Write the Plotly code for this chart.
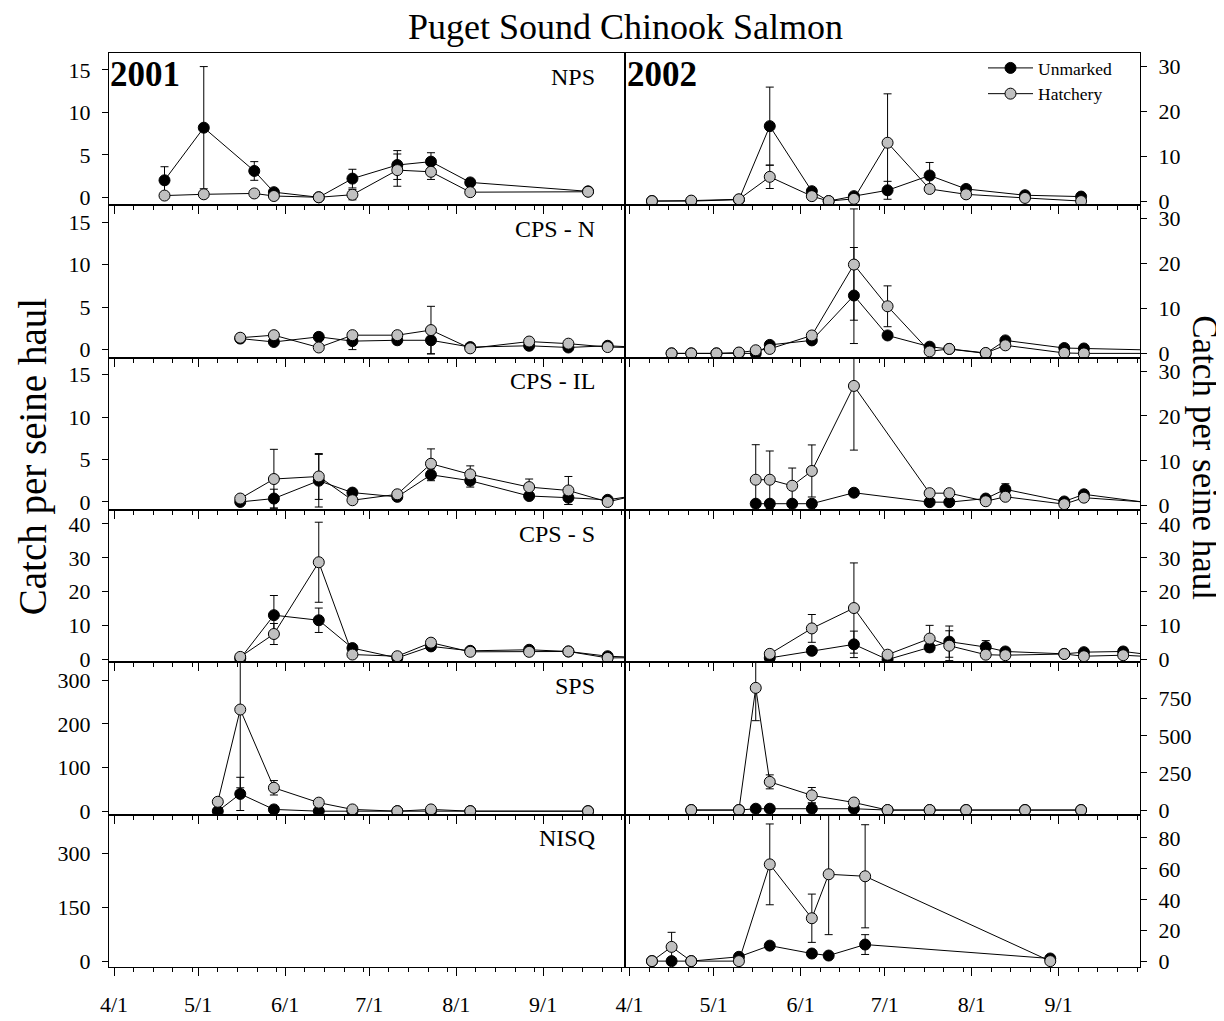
import plotly.graph_objects as go
from plotly.subplots import make_subplots

# Puget Sound Chinook salmon, catch per seine haul (mean +/- SE)
sites = ['NPS', 'CPS - N', 'CPS - IL', 'CPS - S', 'SPS', 'NISQ']
years = ['2001', '2002']

# ---- NPS ----
nps_2001_dates = ['2001-04-19', '2001-05-03', '2001-05-21', '2001-05-28', '2001-06-13',
                  '2001-06-25', '2001-07-11', '2001-07-23', '2001-08-06', '2001-09-17']
nps_2001_unmarked = [2.0, 8.2, 3.1, 0.6, 0.0, 2.2, 3.8, 4.2, 1.75, 0.7]
nps_2001_unmarked_se = [1.6, 7.2, 1.1, 0.2, 0.1, 1.1, 1.7, 1.05, 0.3, 0.1]
nps_2001_hatchery = [0.2, 0.35, 0.45, 0.15, 0.0, 0.3, 3.2, 3.0, 0.6, 0.65]
nps_2001_hatchery_se = [0.1, 0.1, 0.1, 0.1, 0.1, 0.6, 1.9, 0.9, 0.2, 0.1]

nps_2002_dates = ['2002-04-09', '2002-04-23', '2002-05-10', '2002-05-21', '2002-06-05', '2002-06-11',
                  '2002-06-20', '2002-07-02', '2002-07-17', '2002-07-30', '2002-08-20', '2002-09-09']
nps_2002_unmarked = [0.0, 0.0, 0.3, 16.7, 2.2, 0.0, 1.1, 2.4, 5.7, 2.7, 1.3, 1.0]
nps_2002_unmarked_se = [0, 0, 0.2, 8.7, 0.4, 0, 0.3, 2.0, 2.9, 0.4, 0.3, 0.3]
nps_2002_hatchery = [0.0, 0.1, 0.4, 5.4, 1.1, 0.0, 0.5, 13.0, 2.7, 1.5, 0.7, 0.0]
nps_2002_hatchery_se = [0, 0, 0.2, 2.6, 0.4, 0, 0.2, 10.9, 0.5, 0.4, 0.2, 0]

# ---- CPS - N ----
cpsn_2001_dates = ['2001-05-16', '2001-05-28', '2001-06-13', '2001-06-25', '2001-07-11', '2001-07-23',
                   '2001-08-06', '2001-08-27', '2001-09-10', '2001-09-24', '2001-10-10']
cpsn_2001_unmarked = [1.3, 0.9, 1.5, 1.0, 1.1, 1.1, 0.3, 0.45, 0.25, 0.45, 0.2]
cpsn_2001_unmarked_se = [0.35, 0.3, 0.45, 1.0, 0.3, 1.6, 0.2, 0.2, 0.2, 0.2, 0]
cpsn_2001_hatchery = [1.4, 1.7, 0.25, 1.7, 1.7, 2.3, 0.15, 0.95, 0.7, 0.3, 0.2]
cpsn_2001_hatchery_se = [0.45, 0.35, 0.2, 0.3, 0.3, 2.8, 0.1, 0.2, 0.2, 0.1, 0]

cpsn_2002_dates = ['2002-04-16', '2002-04-23', '2002-05-02', '2002-05-10', '2002-05-16', '2002-05-21',
                   '2002-06-05', '2002-06-20', '2002-07-02', '2002-07-17', '2002-07-24', '2002-08-06',
                   '2002-08-13', '2002-09-03', '2002-09-10', '2002-10-15']
cpsn_2002_unmarked = [0, 0, 0, 0.1, 0, 1.9, 2.9, 12.9, 4.0, 1.5, 1.0, 0, 2.9, 1.2, 1.1, 0.6]
cpsn_2002_unmarked_se = [0, 0, 0, 0, 0, 0.4, 0.5, 10.7, 0.5, 0.4, 0.3, 0, 0.5, 0.3, 0.3, 0]
cpsn_2002_hatchery = [0, 0, 0, 0.2, 0.7, 1.0, 4.0, 19.8, 10.5, 0.45, 1.0, 0.1, 1.8, 0.1, 0.0, 0.0]
cpsn_2002_hatchery_se = [0, 0, 0, 0, 0.2, 0.3, 0.6, 12.4, 4.55, 0.2, 0.3, 0, 0.4, 0, 0, 0]

# ---- CPS - IL ----
cpsil_2001_dates = ['2001-05-16', '2001-05-28', '2001-06-13', '2001-06-25', '2001-07-11', '2001-07-23',
                    '2001-08-06', '2001-08-27', '2001-09-10', '2001-09-24', '2001-10-03']
cpsil_2001_unmarked = [0.0, 0.4, 2.5, 1.1, 0.6, 3.2, 2.5, 0.7, 0.5, 0.25, 0.7]
cpsil_2001_unmarked_se = [0.1, 1.1, 3.1, 0.2, 0.2, 0.7, 0.75, 0.2, 0.8, 0.1, 0]
cpsil_2001_hatchery = [0.4, 2.7, 3.0, 0.2, 0.9, 4.5, 3.25, 1.75, 1.35, 0.0, 0.7]
cpsil_2001_hatchery_se = [0.1, 3.5, 2.7, 0.1, 0.2, 1.75, 1.0, 0.95, 1.65, 0.1, 0]

cpsil_2002_dates = ['2002-05-16', '2002-05-21', '2002-05-29', '2002-06-05', '2002-06-20', '2002-07-17',
                    '2002-07-24', '2002-08-06', '2002-08-13', '2002-09-03', '2002-09-10', '2002-10-10']
cpsil_2002_unmarked = [0.45, 0.45, 0.45, 0.45, 2.9, 0.8, 0.8, 1.6, 3.65, 0.95, 2.55, 0.1]
cpsil_2002_unmarked_se = [0.1, 0.1, 0.1, 0.1, 0.4, 0.2, 0.2, 0.3, 1.25, 0.2, 0.4, 0]
cpsil_2002_hatchery = [5.8, 5.8, 4.45, 7.75, 26.7, 2.8, 2.8, 1.0, 2.0, 0.35, 1.8, 0.45]
cpsil_2002_hatchery_se = [7.8, 6.4, 3.95, 5.8, 14.3, 0.3, 0.3, 0.2, 0.3, 0.1, 0.3, 0]

# ---- CPS - S ----
cpss_2001_dates = ['2001-05-16', '2001-05-28', '2001-06-13', '2001-06-25', '2001-07-11', '2001-07-23',
                   '2001-08-06', '2001-08-27', '2001-09-10', '2001-09-24', '2001-10-10']
cpss_2001_unmarked = [0.3, 13.1, 11.6, 3.4, 0.5, 3.9, 2.6, 2.9, 2.4, 1.0, 0.5]
cpss_2001_unmarked_se = [0.2, 5.8, 3.6, 0.4, 0.2, 1.0, 0.3, 0.3, 0.3, 0.2, 0]
cpss_2001_hatchery = [0.8, 7.55, 28.7, 1.5, 1.0, 5.0, 2.3, 2.3, 2.4, 0.5, 0.6]
cpss_2001_hatchery_se = [0.2, 3.1, 11.8, 0.3, 0.2, 1.2, 0.3, 0.3, 0.3, 0.2, 0]

cpss_2002_dates = ['2002-05-21', '2002-06-05', '2002-06-20', '2002-07-02', '2002-07-17', '2002-07-24',
                   '2002-08-06', '2002-08-13', '2002-09-03', '2002-09-10', '2002-09-24', '2002-10-10']
cpss_2002_unmarked = [0.5, 2.6, 4.5, 0.0, 3.6, 5.3, 3.7, 2.4, 1.7, 2.2, 2.4, 0.8]
cpss_2002_unmarked_se = [0.2, 0.4, 3.9, 0.2, 0.8, 4.6, 1.9, 0.4, 0.3, 0.4, 1.2, 0]
cpss_2002_hatchery = [1.7, 9.2, 15.2, 1.45, 6.2, 4.1, 1.45, 1.3, 1.65, 1.0, 1.3, 0.6]
cpss_2002_hatchery_se = [0.3, 4.1, 13.3, 0.3, 3.9, 4.4, 0.3, 0.3, 0.3, 0.3, 0.3, 0]

# ---- SPS ----
sps_2001_dates = ['2001-05-08', '2001-05-16', '2001-05-28', '2001-06-13', '2001-06-25',
                  '2001-07-11', '2001-07-23', '2001-08-06', '2001-09-17']
sps_2001_unmarked = [0.5, 40, 4.5, 0.5, 0.5, 0.5, 0.5, 0.5, 0.5]
sps_2001_unmarked_se = [0.3, 38, 1.5, 0.2, 0.2, 0.2, 0.2, 0.2, 0.2]
sps_2001_hatchery = [22, 233, 54, 20, 4.5, 0.5, 4.5, 0.5, 0.5]
sps_2001_hatchery_se = [2, 179, 16.5, 2, 1, 0.2, 1, 0.2, 0.2]

sps_2002_dates = ['2002-04-23', '2002-05-10', '2002-05-16', '2002-05-21', '2002-06-05', '2002-06-20',
                  '2002-07-02', '2002-07-17', '2002-07-30', '2002-08-20', '2002-09-09']
sps_2002_unmarked = [0, 0, 9, 9, 9, 9, 0, 0, 0, 0, 0]
sps_2002_unmarked_se = [0, 0, 3, 3, 40, 5, 0, 0, 0, 0, 0]
sps_2002_hatchery = [0, 0, 823, 190, 99, 51, 0, 0, 0, 0, 0]
sps_2002_hatchery_se = [0, 0, 221, 47, 53, 5, 0, 0, 0, 0, 0]

# ---- NISQ ----
nisq_2001_dates = []
nisq_2001_unmarked = []
nisq_2001_unmarked_se = []
nisq_2001_hatchery = []
nisq_2001_hatchery_se = []

nisq_2002_dates = ['2002-04-09', '2002-04-16', '2002-04-23', '2002-05-10', '2002-05-21',
                   '2002-06-05', '2002-06-11', '2002-06-24', '2002-08-29']
nisq_2002_unmarked = [0.4, 0.4, 0.4, 3.2, 10.4, 5.3, 4.0, 11.1, 2.1]
nisq_2002_unmarked_se = [0.2, 0.2, 0.2, 0.5, 1.0, 0.5, 0.5, 6.4, 0.3]
nisq_2002_hatchery = [0.4, 9.6, 0.4, 0.4, 62.9, 28.1, 56.5, 55.2, 0.4]
nisq_2002_hatchery_se = [0.2, 9.4, 0.2, 0.2, 26.1, 15.6, 39.0, 33.3, 0.2]

panels = [
    [(nps_2001_dates, nps_2001_unmarked, nps_2001_unmarked_se, nps_2001_hatchery, nps_2001_hatchery_se),
     (nps_2002_dates, nps_2002_unmarked, nps_2002_unmarked_se, nps_2002_hatchery, nps_2002_hatchery_se)],
    [(cpsn_2001_dates, cpsn_2001_unmarked, cpsn_2001_unmarked_se, cpsn_2001_hatchery, cpsn_2001_hatchery_se),
     (cpsn_2002_dates, cpsn_2002_unmarked, cpsn_2002_unmarked_se, cpsn_2002_hatchery, cpsn_2002_hatchery_se)],
    [(cpsil_2001_dates, cpsil_2001_unmarked, cpsil_2001_unmarked_se, cpsil_2001_hatchery, cpsil_2001_hatchery_se),
     (cpsil_2002_dates, cpsil_2002_unmarked, cpsil_2002_unmarked_se, cpsil_2002_hatchery, cpsil_2002_hatchery_se)],
    [(cpss_2001_dates, cpss_2001_unmarked, cpss_2001_unmarked_se, cpss_2001_hatchery, cpss_2001_hatchery_se),
     (cpss_2002_dates, cpss_2002_unmarked, cpss_2002_unmarked_se, cpss_2002_hatchery, cpss_2002_hatchery_se)],
    [(sps_2001_dates, sps_2001_unmarked, sps_2001_unmarked_se, sps_2001_hatchery, sps_2001_hatchery_se),
     (sps_2002_dates, sps_2002_unmarked, sps_2002_unmarked_se, sps_2002_hatchery, sps_2002_hatchery_se)],
    [(nisq_2001_dates, nisq_2001_unmarked, nisq_2001_unmarked_se, nisq_2001_hatchery, nisq_2001_hatchery_se),
     (nisq_2002_dates, nisq_2002_unmarked, nisq_2002_unmarked_se, nisq_2002_hatchery, nisq_2002_hatchery_se)],
]

# axis scales per row (left = 2001, right = 2002)
y_ranges_left = [[-0.95, 17.0], [-0.95, 17.0], [-0.95, 17.0], [-0.8, 44.1], [-7.5, 341], [-16.6, 409]]
y_dticks_left = [5, 5, 5, 10, 100, 150]
y_ranges_right = [[-0.95, 33.0], [-0.95, 33.0], [-0.95, 33.0], [-0.8, 44.1], [-31, 995], [-3.4, 95]]
y_dticks_right = [10, 10, 10, 10, 250, 20]

FONT = 'Liberation Serif'
HATCH_GRAY = 'rgb(192,192,192)'
W, H = 1224, 1021
M_L, M_R, M_T, M_B = 101, 92, 45, 49


def px_x(px):
    # figure pixel -> paper x (paper spans the plotting area)
    return (px - M_L) / (W - M_L - M_R)


def px_y(py):
    return 1 - (py - M_T) / (H - M_T - M_B)


def axis_name(row, col, letter):
    n = (row - 1) * 2 + col
    return letter if n == 1 else f'{letter}{n}'


fig = make_subplots(rows=6, cols=2, horizontal_spacing=0, vertical_spacing=0)

for r in range(6):
    for c in range(2):
        dates, unm, unm_se, hat, hat_se = panels[r][c]
        show = (r == 0 and c == 1)
        for name, vals, se, fill in [('Unmarked', unm, unm_se, 'black'),
                                     ('Hatchery', hat, hat_se, HATCH_GRAY)]:
            fig.add_trace(go.Scatter(
                x=dates, y=vals, mode='lines+markers', name=name,
                showlegend=show,
                line=dict(color='black', width=1),
                marker=dict(size=11, color=fill, line=dict(color='black', width=1)),
                error_y=dict(type='data', array=se, symmetric=True,
                             color='black', thickness=1, width=4),
            ), row=r + 1, col=c + 1)

        year = years[c]
        minor_vals = [f'{year}-{m:02d}-{d:02d}' for m in range(3, 11) for d in (8, 15, 22, 29)]
        fig.update_xaxes(
            type='date',
            range=[f'{year}-03-30 05:00', f'{year}-09-30'],
            tick0=f'{year}-04-01', dtick='M1', tickformat='%-m/%-d',
            ticks='outside', ticklen=8, tickcolor='black', tickwidth=1,
            minor=dict(tickmode='array', tickvals=minor_vals, ticks='outside',
                       ticklen=4, tickcolor='black', tickwidth=1),
            showticklabels=(r == 5), ticklabelstandoff=10,
            tickfont=dict(family=FONT, size=22, color='black'),
            showline=True, linecolor='black', linewidth=1, mirror=True,
            showgrid=False, zeroline=False,
            row=r + 1, col=c + 1)

        fig.update_yaxes(
            range=y_ranges_left[r] if c == 0 else y_ranges_right[r],
            tick0=0, dtick=y_dticks_left[r] if c == 0 else y_dticks_right[r],
            side='left' if c == 0 else 'right',
            ticks='outside', ticklen=6, tickcolor='black', tickwidth=1,
            ticklabelstandoff=7,
            tickfont=dict(family=FONT, size=22, color='black'),
            showline=True, linecolor='black', linewidth=1, mirror=True,
            showgrid=False, zeroline=False,
            row=r + 1, col=c + 1)

# site labels on the 2001 column
for r, site in enumerate(sites):
    fig.add_annotation(
        text=site, xref=f"{axis_name(r + 1, 1, 'x')} domain", yref=f"{axis_name(r + 1, 1, 'y')} domain",
        x=0.947, y=0.845, xanchor='right', yanchor='middle', showarrow=False,
        font=dict(family=FONT, size=24, color='black'))

# year labels
for c, (year, xpos) in enumerate(zip(years, [-0.002, 0.0])):
    fig.add_annotation(
        text=f'<b>{year}</b>', xref=f"{axis_name(1, c + 1, 'x')} domain",
        yref=f"{axis_name(1, c + 1, 'y')} domain",
        x=xpos, y=0.858, xanchor='left', yanchor='middle', showarrow=False,
        font=dict(family=FONT, size=35, color='black'))

# title and axis labels
fig.add_annotation(text='Puget Sound Chinook Salmon', xref='paper', yref='paper',
                   x=px_x(617), y=px_y(19), xanchor='center', yanchor='middle',
                   showarrow=False, font=dict(family=FONT, size=36, color='black'))
fig.add_annotation(text='Catch per seine haul', xref='paper', yref='paper',
                   x=px_x(25), y=px_y(455), xanchor='center', yanchor='middle',
                   textangle=-90, showarrow=False, font=dict(family=FONT, size=39, color='black'))
fig.add_annotation(text='Catch per seine haul', xref='paper', yref='paper',
                   x=px_x(1197), y=px_y(455), xanchor='center', yanchor='middle',
                   textangle=90, showarrow=False, font=dict(family=FONT, size=35, color='black'))

fig.update_layout(
    width=W, height=H,
    margin=dict(l=M_L, r=M_R, t=M_T, b=M_B),
    paper_bgcolor='white', plot_bgcolor='white',
    font=dict(family=FONT, color='black'),
    legend=dict(x=px_x(975), y=px_y(42), xanchor='left', yanchor='top',
                bgcolor='rgba(0,0,0,0)', font=dict(family=FONT, size=17.5, color='black'),
                tracegroupgap=0, itemwidth=45),
)

fig.write_html('out.html')
